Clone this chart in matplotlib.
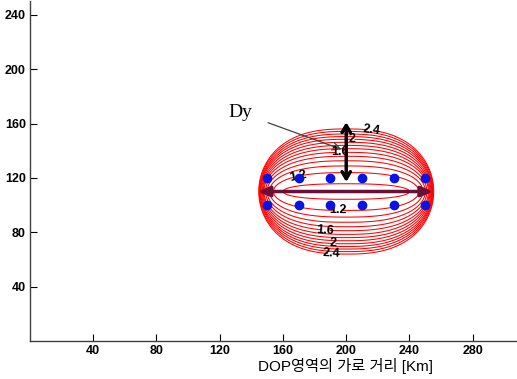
import numpy as np
import matplotlib
matplotlib.use("Agg")
import matplotlib.pyplot as plt

plt.rcParams['font.family'] = ['Liberation Sans', 'Noto Sans CJK KR', 'DejaVu Sans']

# ---------------------------------------------------------------------
# data
station_x = [150, 170, 190, 210, 230, 250]
station_y = [100, 120]

center = (200, 110)

# DOP contour levels and the half width / half height of each closed curve
levels = [1.1, 1.2, 1.3, 1.4, 1.5, 1.6, 1.7, 1.8, 1.9, 2.0, 2.1, 2.2, 2.3, 2.4]
half_w = [40, 46, 48.5, 50, 51, 52, 52.5, 53, 53.5, 54, 54.3, 54.6, 55, 55.3]
half_h = [5.7, 13.9, 18.8, 22.6, 25.9, 28.8, 31.5, 33.9, 36.2, 38.4, 40.4, 42.3, 44.2, 46.0]

# where the contour labels sit
label_pos = {
    1.2: [(170, 118), (195, 96)],
    1.6: [(196, 139), (187, 84)],
    2.0: [(204, 147), (192, 72)],
    2.4: [(216, 154), (191, 65)],
}

# horizontal extent (Dx) and vertical extent (Dy) arrows
dx_span = (144, 255)
dy_span = (117, 161)

x_ticks = [40, 80, 120, 160, 200, 240, 280]
y_ticks = [40, 80, 120, 160, 200, 240]

# ---------------------------------------------------------------------
fig = plt.figure(figsize=(5.17, 3.79), dpi=100)
ax = fig.add_axes([0.058, 0.100, 0.942, 0.897])

xg = np.linspace(135, 265, 400)
yg = np.linspace(55, 165, 400)
X, Y = np.meshgrid(xg, yg)
p = 2.6
for lev, a, b in zip(levels, half_w, half_h):
    g = (np.abs(X - center[0]) / a) ** p + ((Y - center[1]) / b) ** 2
    cs = ax.contour(X, Y, g, levels=[1.0], colors='red', linewidths=0.75)
    if lev in label_pos:
        txts = ax.clabel(cs, fmt={1.0: f"{lev:g}"}, manual=label_pos[lev],
                         inline=True, inline_spacing=1, fontsize=9, colors='black')
        for t in txts:
            t.set_fontweight('bold')

# stations
for sy in station_y:
    ax.plot(station_x, [sy] * len(station_x), 'o', color='#0a14e0',
            markersize=6, zorder=5, linestyle='none')

# horizontal arrow
ax.annotate('', xy=(dx_span[0], center[1]), xytext=(dx_span[1], center[1]),
            arrowprops=dict(arrowstyle='<|-|>,head_length=0.7,head_width=0.3',
                            color='#6a1038', lw=2.5, shrinkA=0, shrinkB=0),
            zorder=6)
# vertical arrow
ax.annotate('', xy=(center[0], dy_span[0]), xytext=(center[0], dy_span[1]),
            arrowprops=dict(arrowstyle='<->,head_length=0.5,head_width=0.3',
                            color='black', lw=2.5, shrinkA=0, shrinkB=0),
            zorder=6)

# Dy pointer
ax.annotate('Dy', xy=(197, 141), xytext=(133, 168),
            fontsize=14, family='Liberation Serif', ha='center', va='center',
            arrowprops=dict(arrowstyle='->', color='#404040', lw=0.9,
                            shrinkA=10, shrinkB=0))

ax.set_xlim(0, 308)
ax.set_ylim(0, 250)
ax.set_xticks(x_ticks)
ax.set_yticks(y_ticks)
ax.tick_params(direction='in', length=5, width=0.8, labelsize=9, pad=3)
for lbl in ax.get_xticklabels() + ax.get_yticklabels():
    lbl.set_fontweight('bold')
for side in ['top', 'right']:
    ax.spines[side].set_visible(False)
for side in ['left', 'bottom']:
    ax.spines[side].set_color('#404040')
    ax.spines[side].set_linewidth(1.0)

ax.set_xlabel('DOP영역의 가로 거리 [Km]', fontsize=11,
              family=['Liberation Sans', 'Noto Sans CJK KR'], labelpad=0)
ax.xaxis.set_label_coords(0.647, -0.051)

fig.savefig('out.png', dpi=100)
